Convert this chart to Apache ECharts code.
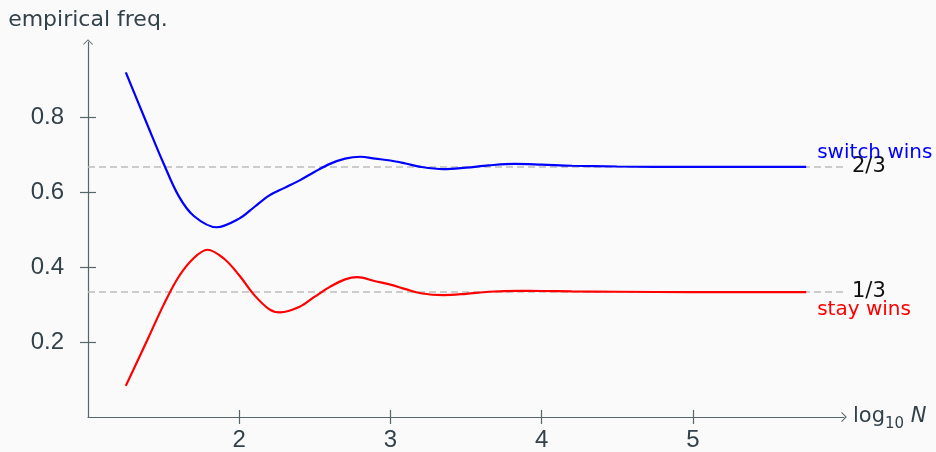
<!DOCTYPE html>
<html>
<head>
<meta charset="utf-8">
<title>Monty Hall: empirical frequencies</title>
<script src="https://cdn.jsdelivr.net/npm/echarts@6/dist/echarts.min.js"></script>
<style>
  html, body { margin: 0; padding: 0; background: #fafafa; }
  #chart { width: 936px; height: 452px; }
</style>
</head>
<body>
<div id="chart"></div>
<script>
// log10 of the number of simulated games, and the running win frequency when switching doors
const switchLogN = [1.25, 1.4, 1.5, 1.6, 1.7, 1.85, 2.0, 2.1, 2.2, 2.3, 2.4, 2.5, 2.6, 2.7, 2.8, 2.9, 3.0, 3.1, 3.2, 3.35, 3.5, 3.65, 3.82, 4.0, 4.2, 4.5, 5.0, 5.75];
const switchWins = [0.919, 0.772, 0.676, 0.589, 0.536, 0.506, 0.529, 0.560, 0.591, 0.611, 0.631, 0.654, 0.675, 0.689, 0.694, 0.689, 0.684, 0.676, 0.667, 0.661, 0.665, 0.671, 0.675, 0.673, 0.670, 0.668, 0.667, 0.667];
// log10 of the number of simulated games, and the running win frequency when staying
const stayLogN = [1.25, 1.4, 1.5, 1.6, 1.7, 1.79, 1.9, 2.0, 2.1, 2.2, 2.27, 2.4, 2.5, 2.6, 2.7, 2.78, 2.9, 3.0, 3.1, 3.2, 3.35, 3.5, 3.65, 3.85, 4.0, 4.2, 4.5, 5.0, 5.75];
const stayWins = [0.083, 0.212, 0.299, 0.374, 0.424, 0.446, 0.422, 0.378, 0.325, 0.287, 0.279, 0.294, 0.321, 0.347, 0.367, 0.373, 0.362, 0.353, 0.341, 0.330, 0.325, 0.3285, 0.334, 0.3365, 0.336, 0.335, 0.334, 0.333, 0.333];
// theoretical limits
const limitValues = [2 / 3, 1 / 3];
const limitLabels = ['2/3', '1/3'];
const xTicks = [2, 3, 4, 5];
const yTicks = [0.2, 0.4, 0.6, 0.8];
const xRange = [1, 6];
const yRange = [0, 1];

const axisColor = '#56666b';
const textColor = '#33424a';
const uiFont = 'DejaVu Sans';
const tickFont = 'Liberation Sans';
const arrow = 'path://M0,0 L5,5 L4.3,5.7 L0,1.4 L-4.3,5.7 L-5,5 Z';

const pair = (xs, ys) => xs.map((x, i) => [x, ys[i]]);

const chart = echarts.init(document.getElementById('chart'), null, { renderer: 'canvas' });

const limitSeries = limitValues.map((v, i) => ({
  type: 'line',
  data: [[xRange[0], v], [xRange[1], v]],
  symbol: 'none',
  silent: true,
  z: 1,
  lineStyle: { color: '#bdbdbd', width: 1.6, type: [7, 4] },
  endLabel: {
    show: true,
    formatter: limitLabels[i],
    color: '#111',
    fontFamily: uiFont,
    fontSize: 21,
    distance: 8
  }
}));

chart.setOption({
  backgroundColor: '#fafafa',
  animation: false,
  grid: { left: 88, right: 92, top: 42, bottom: 32, containLabel: false },
  xAxis: [{
    type: 'value',
    min: xRange[0],
    max: xRange[1],
    name: '{a|log}{b|10}{c| N}',
    nameLocation: 'end',
    nameGap: 9,
    nameTextStyle: {
      rich: {
        a: { fontFamily: uiFont, fontSize: 21, color: textColor },
        b: { fontFamily: uiFont, fontSize: 15, color: textColor, padding: [14, 0, 0, 0] },
        c: { fontFamily: uiFont, fontSize: 21, color: textColor, fontStyle: 'italic' }
      }
    },
    axisLine: { lineStyle: { color: axisColor, width: 1.2 }, symbol: ['none', arrow], symbolSize: [10, 7] },
    axisTick: { show: true, length: 7, customValues: xTicks, lineStyle: { color: axisColor, width: 1.2 } },
    axisLabel: { customValues: xTicks, color: textColor, fontFamily: tickFont, fontSize: 24, margin: 11 },
    splitLine: { show: false }
  }, {
    type: 'value',
    min: xRange[0],
    max: xRange[1],
    position: 'bottom',
    axisLine: { show: false },
    axisTick: { show: true, inside: true, length: 7, customValues: xTicks, lineStyle: { color: axisColor, width: 1.2 } },
    axisLabel: { show: false },
    splitLine: { show: false }
  }],
  yAxis: [{
    type: 'value',
    min: yRange[0],
    max: yRange[1],
    name: 'empirical freq.',
    nameLocation: 'end',
    nameGap: 11,
    nameTextStyle: { fontFamily: uiFont, fontSize: 22, color: textColor, align: 'center' },
    axisLine: { show: true, lineStyle: { color: axisColor, width: 1.2 }, symbol: ['none', arrow], symbolSize: [10, 7] },
    axisTick: { show: true, length: 8, customValues: yTicks, lineStyle: { color: axisColor, width: 1.2 } },
    axisLabel: { customValues: yTicks, color: textColor, fontFamily: tickFont, fontSize: 24, margin: 24, formatter: v => v.toFixed(1) },
    splitLine: { show: false }
  }, {
    type: 'value',
    min: yRange[0],
    max: yRange[1],
    position: 'left',
    axisLine: { show: false },
    axisTick: { show: true, inside: true, length: 8, customValues: yTicks, lineStyle: { color: axisColor, width: 1.2 } },
    axisLabel: { show: false },
    splitLine: { show: false }
  }],
  series: limitSeries.concat([{
    name: 'switch wins',
    type: 'line',
    data: pair(switchLogN, switchWins),
    smooth: 0.35,
    symbol: 'none',
    z: 3,
    lineStyle: { color: '#0000ff', width: 2.2 },
    endLabel: {
      show: true,
      formatter: 'switch wins',
      color: '#0000ff',
      fontFamily: uiFont,
      fontSize: 20,
      offset: [3, -14]
    }
  }, {
    name: 'stay wins',
    type: 'line',
    data: pair(stayLogN, stayWins),
    smooth: 0.35,
    symbol: 'none',
    z: 3,
    lineStyle: { color: '#ff0000', width: 2.2 },
    endLabel: {
      show: true,
      formatter: 'stay wins',
      color: '#ff0000',
      fontFamily: uiFont,
      fontSize: 20,
      offset: [3, 18]
    }
  }])
});
</script>
</body>
</html>
